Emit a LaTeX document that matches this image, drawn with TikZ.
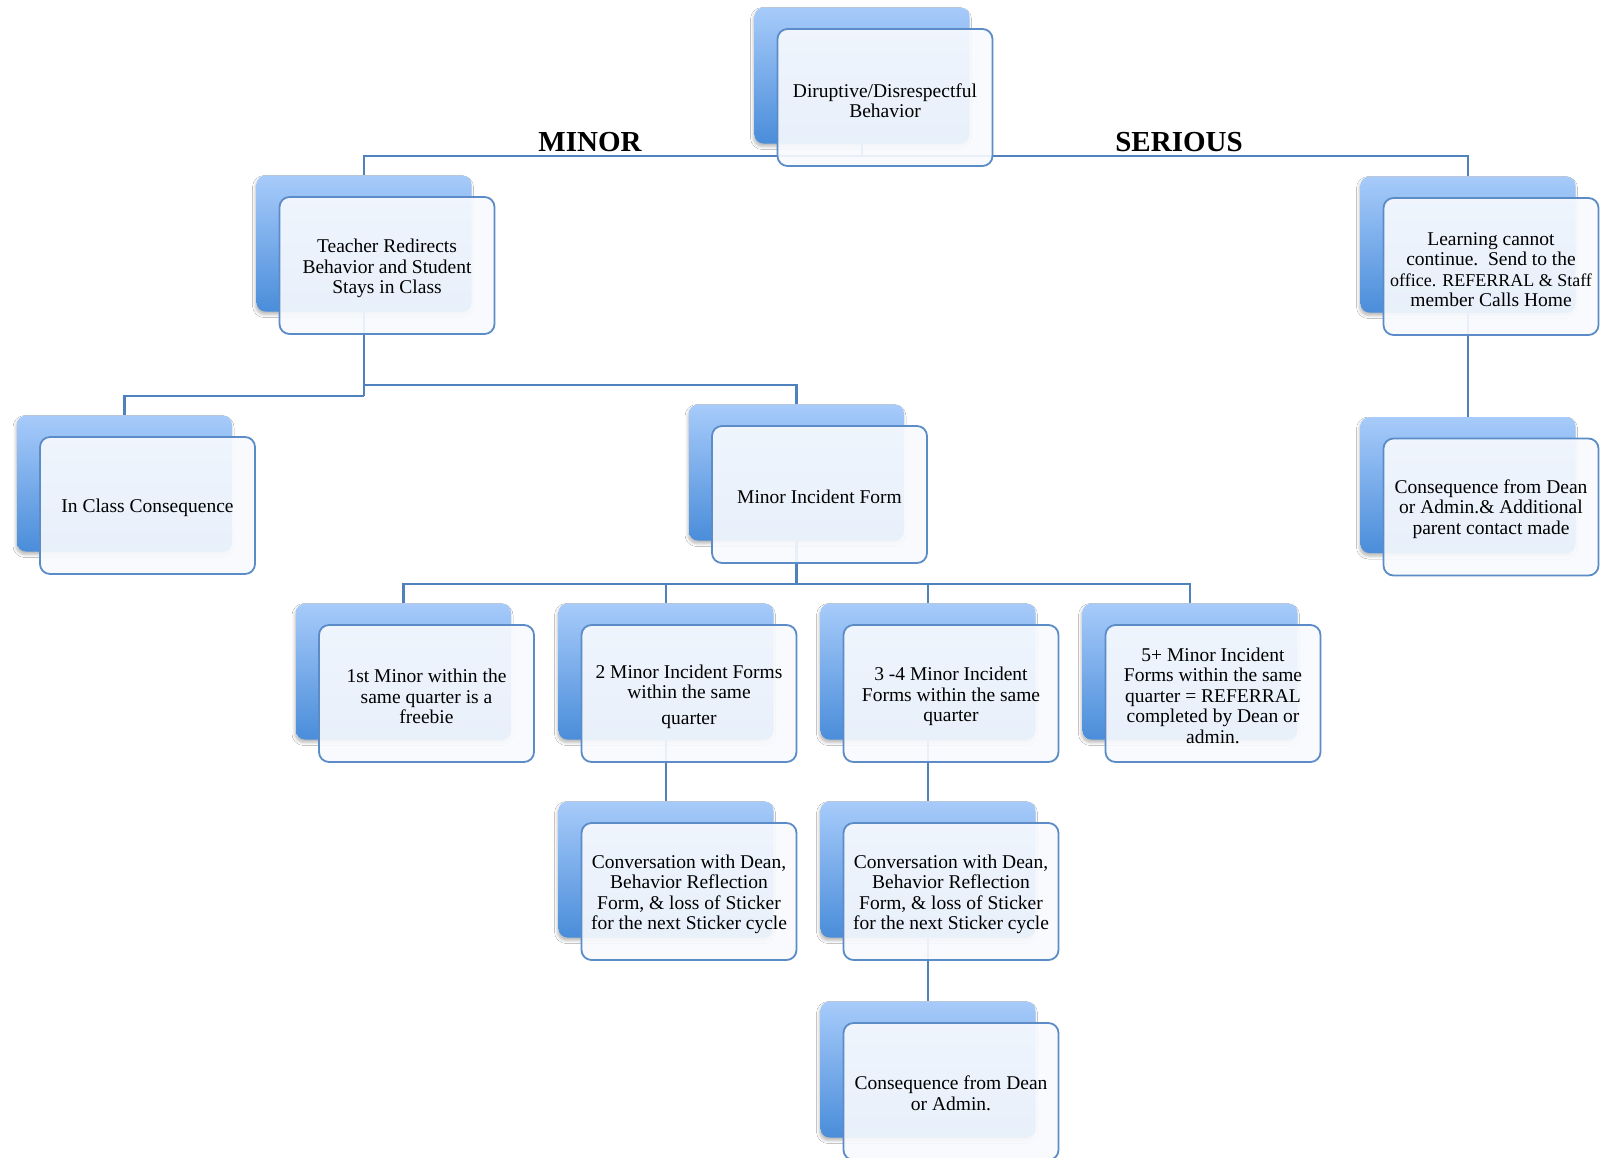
\documentclass[tikz,border=0pt]{standalone}
\usepackage{fontspec}
\setmainfont{Liberation Serif}
\usetikzlibrary{shadows.blur}
\definecolor{lineblue}{HTML}{4F81BD}
\definecolor{edgeblue}{HTML}{5B8CC8}
\definecolor{gtop}{HTML}{A7CBFA}
\definecolor{gbot}{HTML}{4A8DDA}
\definecolor{frontfill}{HTML}{F8FAFE}
\begin{document}
\begin{tikzpicture}[x=1pt,y=-1pt,
  backbox/.style={rectangle, rounded corners=9pt, minimum width=215pt, minimum height=136pt,
    top color=gtop, bottom color=gbot, draw=none,
    blur shadow={shadow xshift=-1pt, shadow yshift=-3pt, shadow blur radius=3pt, shadow opacity=28}},
  frontbox/.style={rectangle, rounded corners=10pt, minimum width=215pt, minimum height=137pt,
    draw=edgeblue, line width=1.8pt, fill=frontfill, fill opacity=0.91, inner sep=0pt},
  txt/.style={align=center, font=\fontsize{19.5}{20.5}\selectfont, inner sep=0pt},
  conn/.style={draw=lineblue, line width=2.4pt},
  cat/.style={font=\fontsize{29}{30}\selectfont\bfseries, anchor=base, inner sep=0pt}]
\useasboundingbox (0,0) rectangle (1600,1157);
\fill[white] (0,0) rectangle (1600,1157);

% back boxes
\node[backbox] (rootB) at (862,75.5) {};
\node[backbox] (teachB) at (364,243.5) {};
\node[backbox] (learnB) at (1468,244.5) {};
\node[backbox] (inclassB) at (124.5,483.5) {};
\node[backbox] (mifB) at (796.5,472.5) {};
\node[backbox] (consRB) at (1468,485) {};
\node[backbox] (firstB) at (403.5,671.5) {};
\node[backbox] (twoB) at (666,671.5) {};
\node[backbox] (threeB) at (928,671.5) {};
\node[backbox] (fiveB) at (1190,671.5) {};
\node[backbox] (convAB) at (666,869.5) {};
\node[backbox] (convBB) at (928,869.5) {};
\node[backbox] (bottomB) at (928,1069.5) {};

% connectors
\draw[conn] (rootB.south) -- ++(0,12) coordinate (rj);
\draw[conn] (rj) -| (teachB.north);
\draw[conn] (rj) -| (learnB.north);
\draw[conn] (teachB.south) -- ++(0,84) coordinate (tj);
\draw[conn] (tj) -| (inclassB.north);
\draw[conn] ([yshift=11pt]tj) -| (mifB.north);
\draw[conn] (mifB.south) -- ++(0,43.5) coordinate (mj);
\draw[conn] (mj) -| (firstB.north);
\draw[conn] (mj) -| (twoB.north);
\draw[conn] (mj) -| (threeB.north);
\draw[conn] (mj) -| (fiveB.north);
\draw[conn] (twoB.south) -- (convAB.north);
\draw[conn] (threeB.south) -- (convBB.north);
\draw[conn] (convBB.south) -- (bottomB.north);
\draw[conn] (learnB.south) -- (consRB.north);

% front boxes
\node[frontbox] (root) at (885,97.5) {};
\node[frontbox] (teach) at (387,265.5) {};
\node[frontbox] (learn) at (1491,266.5) {};
\node[frontbox] (inclass) at (147.5,505.5) {};
\node[frontbox] (mif) at (819.5,494.5) {};
\node[frontbox] (consR) at (1491,507) {};
\node[frontbox] (first) at (426.5,693.5) {};
\node[frontbox] (two) at (689,693.5) {};
\node[frontbox] (three) at (951,693.5) {};
\node[frontbox] (five) at (1213,693.5) {};
\node[frontbox] (convA) at (689,891.5) {};
\node[frontbox] (convB) at (951,891.5) {};
\node[frontbox] (bottom) at (951,1091.5) {};

% texts
\node[txt] (rootT) at ([yshift=-3pt]root.center) {Diruptive/Disrespectful\\Behavior};
\node[txt] (teachT) at ([yshift=-3pt]teach.center) {Teacher Redirects\\Behavior and Student\\Stays in Class};
\node[txt] (learnT) at ([yshift=-3pt]learn.center) {Learning cannot\\continue.\enspace Send to the\\{\fontsize{18}{20.5}\selectfont office. REFERRAL \& Staff}\\member Calls Home};
\node[txt] (inclassT) at ([yshift=-2pt]inclass.center) {In Class Consequence};
\node[txt] (mifT) at ([yshift=-2pt]mif.center) {Minor Incident Form};
\node[txt] (consRT) at ([yshift=-2pt]consR.center) {Consequence from Dean\\or Admin.\& Additional\\parent contact made};
\node[txt] (firstT) at ([yshift=-3pt]first.center) {1st Minor within the\\same quarter is a\\freebie};
\node[txt] (twoT) at ([yshift=-3pt]two.center) {2 Minor Incident Forms\\within the same\\[5pt]quarter};
\node[txt] (threeT) at ([yshift=-3pt]three.center) {3 -4 Minor Incident\\Forms within the same\\quarter};
\node[txt] (fiveT) at ([yshift=-2pt]five.center) {5+ Minor Incident\\Forms within the same\\quarter = REFERRAL\\completed by Dean or\\admin.};
\node[txt] (convAT) at ([yshift=-3pt]convA.center) {Conversation with Dean,\\Behavior Reflection\\Form, \& loss of Sticker\\for the next Sticker cycle};
\node[txt] (convBT) at ([yshift=-3pt]convB.center) {Conversation with Dean,\\Behavior Reflection\\Form, \& loss of Sticker\\for the next Sticker cycle};
\node[txt] (bottomT) at ([yshift=-2pt]bottom.center) {Consequence from Dean\\or Admin.};

% branch labels
\node[cat] (minor) at (590,151) {MINOR};
\node[cat] (serious) at (1179,151) {SERIOUS};
\end{tikzpicture}
\end{document}
